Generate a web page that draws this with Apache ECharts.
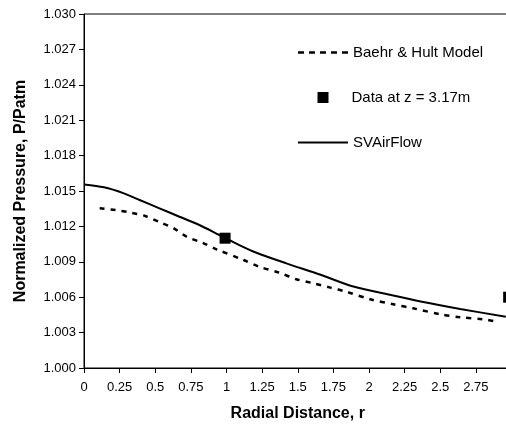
<!DOCTYPE html>
<html>
<head>
<meta charset="utf-8">
<script src="https://cdn.jsdelivr.net/npm/echarts@6/dist/echarts.min.js"></script>
<style>
  html, body { margin: 0; padding: 0; background: #fff; }
  #chart { width: 506px; height: 430px; }
</style>
</head>
<body>
<div id="chart"></div>
<script>
// SVAirFlow (solid line)
const svRadius = [0, 0.14, 0.28, 0.39, 0.53, 0.67, 0.81, 0.95, 1.09, 1.21, 1.42, 1.66, 1.89, 2.17, 2.41, 2.64, 2.96];
const svPressure = [1.01555, 1.01531, 1.0148, 1.01424, 1.01353, 1.01282, 1.01212, 1.01127, 1.01042, 1.00977, 1.00887, 1.0079, 1.0069, 1.00615, 1.00553, 1.005, 1.00435];

// Baehr & Hult model (dashed line)
const bhRadius = [0.11, 0.22, 0.33, 0.43, 0.54, 0.63, 0.72, 0.83, 0.93, 1.12, 1.23, 1.37, 1.49, 1.61, 1.73, 1.84, 2.01, 2.17, 2.31, 2.50, 2.64, 2.80, 2.90];
const bhPressure = [1.01353, 1.01339, 1.01316, 1.01288, 1.01231, 1.01184, 1.01113, 1.01062, 1.01006, 1.00915, 1.00858, 1.00808, 1.00752, 1.00718, 1.00681, 1.00647, 1.00582, 1.0054, 1.00506, 1.00455, 1.0043, 1.00413, 1.00392];

// measured data at z = 3.17m
const dataRadius = [0.99, 2.98];
const dataPressure = [1.0110, 1.0060];

const seriesNames = ['Baehr & Hult Model', 'Data at z = 3.17m', 'SVAirFlow'];

const zip = (xs, ys) => xs.map((x, i) => [x, ys[i]]);

const chart = echarts.init(document.getElementById('chart'));
const font = 'Arial, "Liberation Sans", sans-serif';

// legend icons: dashed and solid line samples
const dashIcon = 'path://M0,0h6v2.5h-6z M11,0h6v2.5h-6z M22,0h6v2.5h-6z M33,0h6v2.5h-6z M44,0h6v2.5h-6z';
const legendText = { fontSize: 15, fontFamily: font, color: '#000' };

const option = {
    animation: false,
    textStyle: { fontFamily: font, color: '#000' },
    grid: {
        left: 84, top: 14, right: -5.5, bottom: 62,
        outerBoundsMode: 'none',
        show: true, borderColor: '#000', borderWidth: 1, backgroundColor: 'transparent'
    },
    legend: [
        {
            data: [{ name: seriesNames[0], icon: dashIcon }], left: 293, top: 40,
            itemWidth: 50, itemHeight: 2.5,
            textStyle: legendText
        },
        {
            data: [{ name: seriesNames[1], icon: 'rect' }], left: 312.5, top: 85,
            itemWidth: 11, itemHeight: 11,
            textStyle: Object.assign({}, legendText, { padding: [0, 0, 0, 18] })
        },
        {
            data: [{ name: seriesNames[2], icon: 'rect' }], left: 293, top: 130,
            itemWidth: 50, itemHeight: 2,
            textStyle: legendText
        }
    ],
    xAxis: {
        type: 'value', min: 0, max: 3, interval: 0.25,
        name: 'Radial Distance, r', nameLocation: 'middle', nameGap: 38,
        nameTextStyle: { fontSize: 16, fontWeight: 'bold', color: '#000' },
        axisLine: { lineStyle: { color: '#000', width: 1 } },
        axisTick: { show: true, length: 5, lineStyle: { color: '#000' } },
        axisLabel: { fontSize: 13, color: '#000', margin: 13,
            formatter: v => (v >= 3 ? '' : String(v)) },
        splitLine: { show: false }
    },
    yAxis: {
        type: 'value', min: 1.0, max: 1.03, interval: 0.003,
        name: 'Normalized Pressure, P/Patm', nameLocation: 'middle', nameGap: 55,
        nameTextStyle: { fontSize: 16, fontWeight: 'bold', color: '#000' },
        axisLine: { show: true, lineStyle: { color: '#000', width: 1 } },
        axisTick: { show: true, length: 5, lineStyle: { color: '#000' } },
        axisLabel: { fontSize: 13, color: '#000', margin: 8, formatter: v => v.toFixed(3) },
        splitLine: { show: false }
    },
    series: [
        {
            name: seriesNames[0], type: 'line', data: zip(bhRadius, bhPressure),
            symbol: 'none', smooth: 0.3, clip: false,
            lineStyle: { color: '#000', width: 2.5, type: [5, 6] },
            itemStyle: { color: '#000' }
        },
        {
            name: seriesNames[1], type: 'scatter', data: zip(dataRadius, dataPressure),
            symbol: 'rect', symbolSize: 11, clip: false,
            itemStyle: { color: '#000', opacity: 1 }
        },
        {
            name: seriesNames[2], type: 'line', data: zip(svRadius, svPressure),
            symbol: 'none', smooth: 0.3, clip: false,
            lineStyle: { color: '#000', width: 2 },
            itemStyle: { color: '#000' }
        }
    ]
};

chart.setOption(option);
</script>
</body>
</html>
